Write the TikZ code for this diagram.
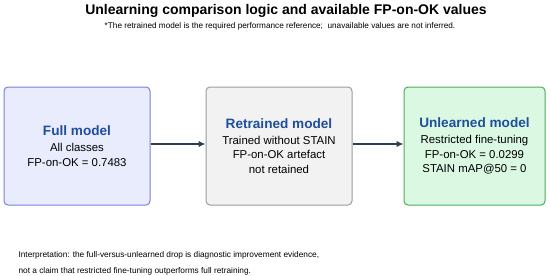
\documentclass[tikz,border=0pt]{standalone}
\usepackage{fontspec}
\setmainfont{Liberation Sans}
\usetikzlibrary{arrows.meta}
\definecolor{titleblue}{HTML}{1F4E9C}
\definecolor{fullfill}{HTML}{E8ECFD}
\definecolor{fulldraw}{HTML}{7C80D8}
\definecolor{retfill}{HTML}{F2F2F2}
\definecolor{retdraw}{HTML}{9C9C9C}
\definecolor{unlfill}{HTML}{DAF8E2}
\definecolor{unldraw}{HTML}{4CAF5A}
\definecolor{arrowcol}{HTML}{2F3E4E}
\tikzset{
  modelbox/.style={rounded corners=4pt, line width=1pt, minimum height=118pt, align=center, inner sep=0pt,
    font=\fontsize{11.4}{14.6}\selectfont},
  flowarrow/.style={-{Latex[length=7pt,width=6.5pt]}, line width=1.8pt, draw=arrowcol}
}
\newcommand{\btitle}[1]{{\fontsize{13.6}{16}\selectfont\bfseries\color{titleblue}#1}\\[1.5pt]}
\begin{document}
\begin{tikzpicture}[x=1pt,y=-1pt]
\useasboundingbox (0,0) rectangle (550,276);
\fill[white] (0,0) rectangle (550,276);
\node[font=\fontsize{14}{16}\selectfont\bfseries] (title) at (286,11) {Unlearning comparison logic and available FP-on-OK values};
\node[font=\fontsize{8.2}{10}\selectfont] (sub) at (280,26) {*The retrained model is the required performance reference;\ \ unavailable values are not inferred.};
\node[modelbox, draw=fulldraw, fill=fullfill, minimum width=146pt] (full) at (77,146)
  {\btitle{Full model}All classes\\FP-on-OK = 0.7483};
\node[modelbox, draw=retdraw, fill=retfill, minimum width=146pt] (ret) at (279,146)
  {\btitle{Retrained model}Trained without STAIN\\FP-on-OK artefact\\not retained};
\node[modelbox, draw=unldraw, fill=unlfill, minimum width=141pt] (unl) at (474.5,146)
  {\btitle{Unlearned model}Restricted fine-tuning\\FP-on-OK = 0.0299\\STAIN mAP@50 = 0};
\draw[flowarrow] (full.east |- 0,144) -- (ret.west |- 0,144);
\draw[flowarrow] (ret.east |- 0,144) -- (unl.west |- 0,144);
\node[anchor=west, align=left, font=\fontsize{8.3}{16}\selectfont] (interp) at (15,263)
  {Interpretation: the full-versus-unlearned drop is diagnostic improvement evidence,\\not a claim that restricted fine-tuning outperforms full retraining.};
\end{tikzpicture}
\end{document}
